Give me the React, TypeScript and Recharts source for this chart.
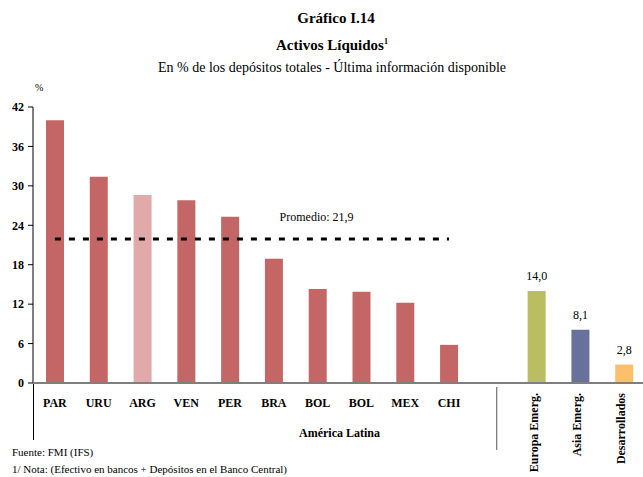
import { Bar, Line, XAxis, YAxis, Cell, LabelList, ComposedChart } from "recharts";

const categorias = ["PAR", "URU", "ARG", "VEN", "PER", "BRA", "BOL", "BOL ", "MEX", "CHI", "", "Europa Emerg.", "Asia Emerg.", "Desarrollados"];
const valores = [40.0, 31.4, 28.6, 27.8, 25.3, 18.9, 14.3, 13.9, 12.2, 5.8, null, 14.0, 8.1, 2.8];
const promedio = [21.9, 21.9, 21.9, 21.9, 21.9, 21.9, 21.9, 21.9, 21.9, 21.9, null, null, null, null];
const etiquetas = [null, null, null, null, null, null, null, null, null, null, null, "14,0", "8,1", "2,8"];
const colores = ["#C46666", "#C46666", "#E0AAAA", "#C46666", "#C46666", "#C46666", "#C46666", "#C46666", "#C46666", "#C46666", "#C46666", "#BBBE60", "#67719B", "#FCC06C"];
const yTicks = [0, 6, 12, 18, 24, 30, 36, 42];

const rotadas = ["Europa Emerg.", "Asia Emerg.", "Desarrollados"];
const FONT = "Liberation Serif, Times New Roman, DejaVu Serif, serif";

const data = categorias.map((c, i) => ({
  name: c,
  valor: valores[i],
  promedio: promedio[i],
  etiqueta: etiquetas[i],
}));

const CategoryTick = (props: any) => {
  const { x, y, payload } = props;
  const v: string = payload.value;
  if (v === "") {
    // separador entre grupos
    return <line x1={x + 4} x2={x + 4} y1={y + 4} y2={y + 67} stroke="#555" strokeWidth={1} />;
  }
  if (rotadas.includes(v)) {
    return (
      <text
        x={x + 1}
        y={y + 10}
        transform={`rotate(-90, ${x + 1}, ${y + 10})`}
        textAnchor="end"
        fontSize={12}
        fontWeight="bold"
        fontFamily={FONT}
        fill="#000"
      >
        {v}
      </text>
    );
  }
  return (
    <text x={x} y={y + 24} textAnchor="middle" fontSize={12} fontWeight="bold" fontFamily={FONT} fill="#000">
      {v.trim()}
    </text>
  );
};

const PromedioLabel = (props: any) => {
  const { x, y, index } = props;
  if (index !== 6) return null;
  return (
    <text x={x - 1} y={y - 18} textAnchor="middle" fontSize={12} fontFamily={FONT} fill="#000">
      Promedio: 21,9
    </text>
  );
};

const ValorLabel = (props: any) => {
  const { x, y, width, value } = props;
  if (value == null) return null;
  return (
    <text x={x + width / 2} y={y - 11} textAnchor="middle" fontSize={12} fontFamily={FONT} fill="#000">
      {value}
    </text>
  );
};

export default function App() {
  return (
    <div
      style={{
        position: "absolute",
        left: 0,
        top: 0,
        width: 643,
        height: 477,
        overflow: "hidden",
        background: "#fff",
        color: "#000",
        fontFamily: FONT,
      }}
    >
      <div style={{ position: "absolute", top: 10, width: 672, textAlign: "center", fontSize: 15, fontWeight: "bold" }}>
        Gráfico I.14
      </div>
      <div style={{ position: "absolute", top: 37, width: 664, textAlign: "center", fontSize: 15, fontWeight: "bold" }}>
        Activos Líquidos<sup style={{ fontSize: 8 }}>1</sup>
      </div>
      <div style={{ position: "absolute", top: 60, width: 664, textAlign: "center", fontSize: 14 }}>
        En % de los depósitos totales - Última información disponible
      </div>
      <div style={{ position: "absolute", top: 82, left: 35, fontSize: 10, color: "#000" }}>%</div>
      <div style={{ position: "absolute", top: 383, left: 33, width: 1, height: 57, background: "#000" }} />
      <div style={{ position: "absolute", top: 446, left: 12, fontSize: 11 }}>Fuente: FMI (IFS)</div>
      <div style={{ position: "absolute", top: 463, left: 12, fontSize: 11 }}>
        1/ Nota: (Efectivo en bancos + Depósitos en el Banco Central)
      </div>
      <div style={{ position: "absolute", left: 0, top: 0 }}>
        <ComposedChart width={660} height={477} data={data} margin={{ top: 107, right: 14, left: 3, bottom: 34 }}>
          <YAxis
            type="number"
            domain={[0, 42]}
            ticks={yTicks}
            width={30}
            axisLine={{ stroke: "#000", strokeWidth: 1 }}
            tickLine={{ stroke: "#000" }}
            tickSize={5}
            tickMargin={4}
            tick={{ fill: "#000", fontSize: 12, fontWeight: "bold", fontFamily: FONT }}
          />
          <XAxis
            dataKey="name"
            type="category"
            height={60}
            interval={0}
            tickLine={false}
            tickSize={0}
            tickMargin={0}
            axisLine={{ stroke: "#7f7f7f", strokeWidth: 2 }}
            tick={<CategoryTick />}
            label={{
              value: "América Latina",
              position: "insideBottom",
              offset: 6,
              fill: "#000",
              fontSize: 12,
              fontWeight: "bold",
              fontFamily: FONT,
            }}
          />
          <Bar dataKey="valor" barSize={18} isAnimationActive={false}>
            {data.map((d, i) => (
              <Cell key={i} fill={colores[i]} />
            ))}
            <LabelList dataKey="etiqueta" content={<ValorLabel />} />
          </Bar>
          <Line
            dataKey="promedio"
            stroke="#000"
            strokeWidth={3}
            strokeDasharray="6 8"
            dot={false}
            activeDot={false}
            isAnimationActive={false}
          >
            <LabelList dataKey="promedio" content={<PromedioLabel />} />
          </Line>
        </ComposedChart>
      </div>
    </div>
  );
}
